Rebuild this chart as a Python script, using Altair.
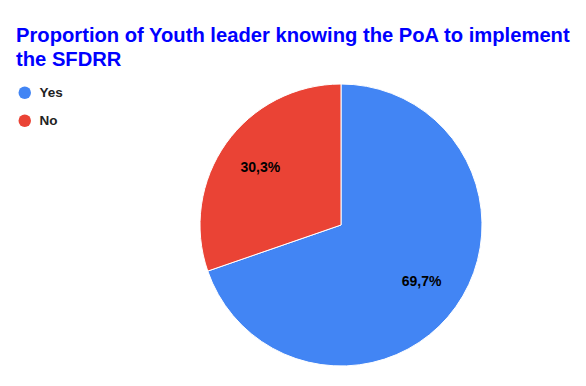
import altair as alt
import pandas as pd

categories = ["Yes", "No"]
values = [69.7, 30.3]
labels = ["69,7%", "30,3%"]
colors = ["#4285F4", "#EA4335"]

df = pd.DataFrame({"answer": categories, "value": values, "label": labels, "order": [0, 1]})

CX, CY, R = 333, 142, 141

base = alt.Chart(df).encode(
    theta=alt.Theta("value:Q", stack=True),
    order=alt.Order("order:Q"),
)

pie = base.mark_arc(radius=R, stroke="white", strokeWidth=1).encode(
    x=alt.value(CX),
    y=alt.value(CY),
    color=alt.Color(
        "answer:N",
        scale=alt.Scale(domain=categories, range=colors),
        sort=categories,
        legend=alt.Legend(
            title=None,
            orient="none",
            legendX=10,
            legendY=3,
            symbolType="circle",
            symbolSize=155,
            symbolStrokeWidth=0,
            labelFont="Liberation Sans",
            labelFontSize=13.5,
            labelFontWeight="bold",
            labelColor="#222222",
            rowPadding=13,
            labelOffset=8,
        ),
    ),
)

text = base.mark_text(
    radius=99,
    font="Liberation Sans",
    fontSize=14,
    fontWeight="bold",
    color="#000000",
).encode(
    x=alt.value(CX),
    y=alt.value(CY),
    text="label:N",
)

chart = (
    alt.layer(pie, text)
    .properties(
        width=570,
        height=295,
        padding={"left": 0, "top": 75, "right": 0, "bottom": 0},
        autosize=alt.AutoSizeParams(type="none"),
        title=alt.Title(
            ["Proportion of Youth leader knowing the PoA to implement", "the SFDRR"],
            anchor="start",
            frame="group",
            font="Liberation Sans",
            fontSize=20.2,
            fontWeight="bold",
            color="#0000FF",
            lineHeight=24,
            dx=8,
            offset=12,
        ),
        background="white",
    )
    .configure_view(stroke=None)
)

chart.save("out.html", embed_options={"renderer": "svg", "actions": False})
